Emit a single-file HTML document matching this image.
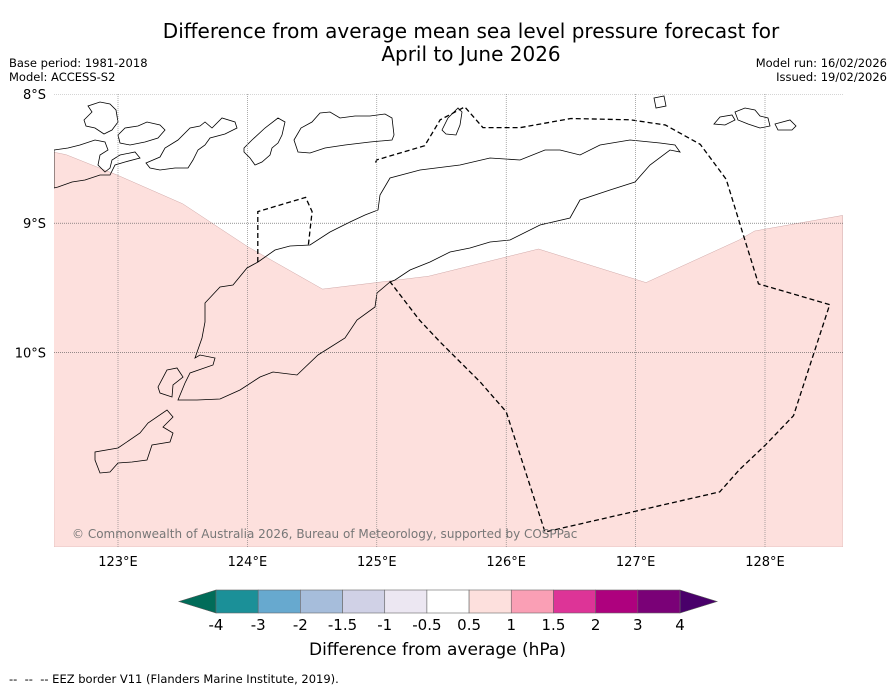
<!DOCTYPE html>
<html><head><meta charset="utf-8"><style>
body{margin:0;background:#fff;font-family:"DejaVu Sans","Liberation Sans",sans-serif;}
#wrap{position:relative;width:896px;height:690px;overflow:hidden;}
.t{position:absolute;white-space:nowrap;color:#000;}
</style></head><body>
<div id="wrap">
<div class="t" style="left:0;width:942px;text-align:center;top:20px;font-size:20px;line-height:23px;">Difference from average mean sea level pressure forecast for<br>April to June 2026</div>
<div class="t" style="left:9px;top:56px;font-size:11.5px;line-height:14px;">Base period: 1981-2018<br>Model: ACCESS-S2</div>
<div class="t" style="right:9px;top:56px;font-size:11.5px;line-height:14px;text-align:right;">Model run: 16/02/2026<br>Issued: 19/02/2026</div>
<svg id="map" width="896" height="690" style="position:absolute;left:0;top:0"></svg>
<div class="t" style="left:309px;top:640px;font-size:17px;">Difference from average (hPa)</div>
<div class="t" style="left:9px;top:672px;font-size:11.5px;">--&nbsp; --&nbsp; -- EEZ border V11 (Flanders Marine Institute, 2019).</div>
</div>
<script>
const lonTicks=[123,124,125,126,127,128];
const latTicks=[8,9,10];
const cbLabels=["-4","-3","-2","-1.5","-1","-0.5","0.5","1","1.5","2","3","4"];
const cbColors=["#1b9098","#67a9cf","#a6bddb","#d0d1e6","#ece7f2","#ffffff","#fde0dd","#fa9fb5","#dd3497","#ae017e","#7a0177"];
const pinkLon=[122.5,122.6,123.0,123.5,124.0,124.58,125.4,126.25,127.08,127.8,127.92,128.6];
const pinkLat=[8.45,8.47,8.63,8.85,9.18,9.51,9.41,9.2,9.46,9.13,9.06,8.94];
const eez1Lon=[124.08,124.08,124.45,124.5,124.47];
const eez1Lat=[9.3,8.91,8.8,8.91,9.18];
const eez2Lon=[124.99,125.0,125.37,125.49,125.68,125.82,126.11,126.5,126.96,127.23,127.5,127.7,127.82,127.95,128.5,128.22,128.0,127.8,127.65,126.3,126.0,125.8,125.49,125.33,125.1];
const eez2Lat=[8.53,8.51,8.4,8.2,8.1,8.26,8.26,8.19,8.2,8.24,8.39,8.66,9.05,9.47,9.63,10.49,10.72,10.91,11.08,11.39,10.46,10.23,9.92,9.75,9.45];
const svgNS="http://www.w3.org/2000/svg";
const svg=document.getElementById('map');
const X0=54,X1=843,Y0=94,Y1=547;
function xs(lon){return 118+(lon-123)*129.4;}
function ys(lat){return 94+(lat-8)*129.2;}
function mk(tag,attrs,parent){const e=document.createElementNS(svgNS,tag);for(const k in attrs)e.setAttribute(k,attrs[k]);(parent||svg).appendChild(e);return e;}
const cp=mk('clipPath',{id:'clip'});mk('rect',{x:X0,y:Y0,width:X1-X0,height:Y1-Y0},cp);
const g=mk('g',{'clip-path':'url(#clip)'});


let d='M'+X0+','+Y1;
pinkLon.forEach((v,i)=>{d+=' L'+xs(v).toFixed(1)+','+ys(pinkLat[i]).toFixed(1);});
d+=' L'+X1+','+Y1+' Z';
const pk=mk('path',{d:d,fill:'#fde0dd',stroke:'#d0a8a8','stroke-width':0.5},g);


// coastlines (geography, pixel outlines)
const coasts=[
["coastline-timor","M195,358 L202,338 L205,322 L205,303 L220,287 L233,285 L247,268 L258,262 L275,250 L290,246 L310,245 L330,232 L350,222 L365,215 L378,210 L380,195 L390,178 L420,170 L460,165 L490,158 L520,160 L545,150 L560,150 L580,155 L600,145 L630,140 L660,143 L675,145 L680,152 L670,150 L650,165 L635,182 L610,190 L580,200 L570,218 L540,225 L510,240 L490,242 L470,248 L450,252 L430,262 L410,270 L395,280 L390,282 L377,293 L375,307 L357,320 L345,338 L318,355 L297,375 L273,372 L260,377 L240,390 L220,399 L197,400 L178,400 L185,383 L190,373 L213,365 L215,358 L200,355 Z"],
["coastline-semau","M167,370 L177,368 L183,377 L173,385 L172,397 L160,393 L158,387 Z"],
["coastline-rote","M167,410 L173,417 L163,427 L173,433 L170,442 L152,445 L147,460 L132,462 L118,463 L110,472 L100,473 L95,460 L95,452 L118,448 L140,433 L148,423 Z"],
["coastline-alor","M294,140 L301,128 L312,122 L320,113 L330,112 L340,118 L355,116 L370,116 L385,114 L392,118 L394,135 L392,140 L370,142 L345,145 L325,148 L310,153 L298,152 Z"],
["coastline-pantar","M244,148 L252,140 L265,128 L278,118 L285,122 L282,135 L278,143 L272,148 L270,155 L262,162 L255,165 L250,158 L244,152 Z"],
["coastline-lembata","M146,163 L160,157 L165,148 L178,140 L190,128 L200,126 L205,122 L212,128 L222,118 L235,122 L237,128 L225,134 L210,138 L205,145 L198,150 L193,160 L188,168 L175,168 L160,170 L150,168 Z"],
["coastline-adonara","M118,135 L125,128 L138,126 L147,122 L160,125 L165,130 L158,138 L145,142 L130,145 L120,143 Z"],
["coastline-solor","M84,120 L92,112 L88,106 L100,102 L110,104 L116,110 L118,122 L112,130 L104,134 L95,128 L86,126 Z"],
["coastline-flores","M54,150 L68,148 L80,145 L95,140 L105,142 L108,150 L100,155 L98,165 L105,172 L110,168 L112,160 L120,155 L135,152 L140,158 L125,162 L115,165 L110,175 L100,175 L85,180 L72,182 L58,187 L54,188 Z"],
["coastline-atauro","M442,130 L448,118 L458,108 L462,112 L460,125 L456,135 L446,134 Z"],
["coastline-wetar-east","M714,124 L720,117 L732,115 L735,120 L725,125 Z"],
["coastline-islet-1","M735,112 L745,108 L755,110 L760,116 L768,118 L770,126 L760,128 L748,124 L738,120 Z"],
["coastline-islet-2","M775,124 L790,120 L796,126 L792,130 L778,130 Z"],
["coastline-islet-3","M654,98 L664,96 L666,106 L656,108 Z"]
];
coasts.forEach(c=>{const e=mk('path',{d:c[1],fill:'none',stroke:'#000','stroke-width':0.8},g);});
function line(lons,lats,attrs,name){let p='';lons.forEach((v,i)=>{p+=(i?' L':'M')+xs(v).toFixed(1)+','+ys(lats[i]).toFixed(1);});const e=mk('path',Object.assign({d:p},attrs),g);}
line(eez1Lon,eez1Lat,{fill:'none',stroke:'#000','stroke-width':1.3,'stroke-dasharray':'5,3'},'eez-border-oecusse');
line(eez2Lon,eez2Lat,{fill:'none',stroke:'#000','stroke-width':1.3,'stroke-dasharray':'5,3'},'eez-border-timor-leste');
lonTicks.forEach(v=>{const x=xs(v);const l=mk('line',{x1:x,x2:x,y1:Y0,y2:Y1,stroke:'#777','stroke-width':0.6,'stroke-dasharray':'1,1'},g);
const t=mk('text',{x:x,y:566,'font-size':13,'text-anchor':'middle','font-family':'DejaVu Sans,Liberation Sans,sans-serif'});t.textContent=v+'°E';});
latTicks.forEach(v=>{const y=ys(v);const l=mk('line',{x1:X0,x2:X1,y1:y,y2:y,stroke:'#555','stroke-width':0.6,'stroke-dasharray':'1,1'},g);
const t=mk('text',{x:46,y:y+5,'font-size':13,'text-anchor':'end','font-family':'DejaVu Sans,Liberation Sans,sans-serif'});t.textContent=v+'°S';});
const cr=mk('text',{x:72,y:538,'font-size':12,fill:'#777','font-family':'DejaVu Sans,Liberation Sans,sans-serif'},g);cr.textContent='© Commonwealth of Australia 2026, Bureau of Meteorology, supported by COSPPac';

const cb0=216,cb1=680,cy0=590,cy1=613,w=(cb1-cb0)/cbColors.length;
const la=mk('path',{d:`M${cb0},${cy0} L179,${(cy0+cy1)/2} L${cb0},${cy1} Z`,fill:'#016c59',stroke:'#555','stroke-width':0.6});

const ra=mk('path',{d:`M${cb1},${cy0} L717,${(cy0+cy1)/2} L${cb1},${cy1} Z`,fill:'#49006a',stroke:'#555','stroke-width':0.6});

cbColors.forEach((c,i)=>{const r=mk('rect',{x:cb0+i*w,y:cy0,width:w,height:cy1-cy0,fill:c,stroke:'#666','stroke-width':0.6});});
cbLabels.forEach((s,i)=>{const t=mk('text',{x:cb0+i*w,y:630,'font-size':15,'text-anchor':'middle','font-family':'DejaVu Sans,Liberation Sans,sans-serif'});t.textContent=s;});
</script>
</body></html>
